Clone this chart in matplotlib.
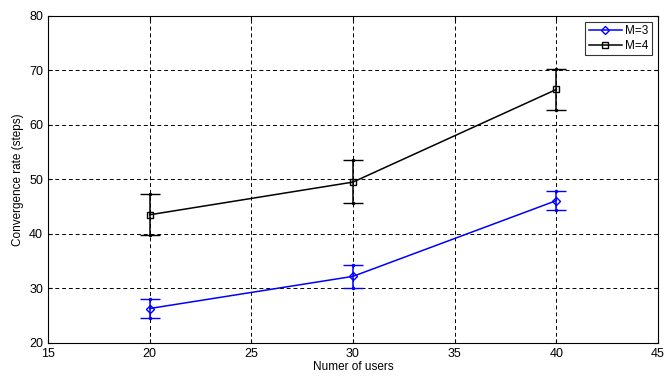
import matplotlib
matplotlib.use("Agg")
import matplotlib.pyplot as plt
from matplotlib.lines import Line2D

plt.rcParams['font.family'] = ['Liberation Sans', 'DejaVu Sans']

users = [20, 30, 40]
m3_mean = [26.3, 32.2, 46.1]
m3_low = [24.6, 30.1, 44.3]
m3_high = [28.0, 34.2, 47.9]
m4_mean = [43.5, 49.5, 66.5]
m4_low = [39.8, 45.6, 62.8]
m4_high = [47.4, 53.5, 70.2]

fig = plt.figure(figsize=(6.66, 3.78), dpi=100)
ax = fig.add_axes([0.072, 0.093, 0.916, 0.865])

err3 = [[m - l for m, l in zip(m3_mean, m3_low)], [h - m for m, h in zip(m3_mean, m3_high)]]
err4 = [[m - l for m, l in zip(m4_mean, m4_low)], [h - m for m, h in zip(m4_mean, m4_high)]]

ax.errorbar(users, m3_mean, yerr=err3, color="blue", marker="D", markersize=4.2,
            markerfacecolor="none", markeredgewidth=1, linewidth=1.1, capsize=7,
            elinewidth=1.1, capthick=1.1)
ax.errorbar(users, m4_mean, yerr=err4, color="black", marker="s", markersize=5,
            markerfacecolor="none", markeredgewidth=1, linewidth=1.1, capsize=7,
            elinewidth=1.1, capthick=1.1)
# small dots at the cap ends, as in the original
ax.plot(users + users, m4_low + m4_high, ".", color="black", markersize=3)
ax.plot(users + users, m3_low + m3_high, ".", color="blue", markersize=3)

ax.set_xlim(15, 45)
ax.set_ylim(20, 80)
ax.set_xticks(range(15, 46, 5))
ax.set_yticks(range(20, 81, 10))
ax.grid(True, color="black", linestyle=(0, (4, 3)), linewidth=0.7)
ax.tick_params(direction="in", labelsize=9, length=3, top=True, right=True)
for s in ax.spines.values():
    s.set_linewidth(0.8)
ax.set_xlabel("Numer of users", fontsize=8.5, labelpad=1)
ax.set_ylabel("Convergence rate (steps)", fontsize=8.5, labelpad=4)

handles = [
    Line2D([], [], color="blue", marker="D", markersize=4.2, markerfacecolor="none", linewidth=1.1),
    Line2D([], [], color="black", marker="s", markersize=5, markerfacecolor="none", linewidth=1.1),
]
leg = ax.legend(handles, ["M=3", "M=4"], loc="upper right", fontsize=8.5, fancybox=False,
                edgecolor="black", handlelength=2.8, borderaxespad=0.5, handletextpad=0.3,
                labelspacing=0.2, borderpad=0.3)
leg.get_frame().set_linewidth(0.8)

fig.savefig("out.png", dpi=100)
